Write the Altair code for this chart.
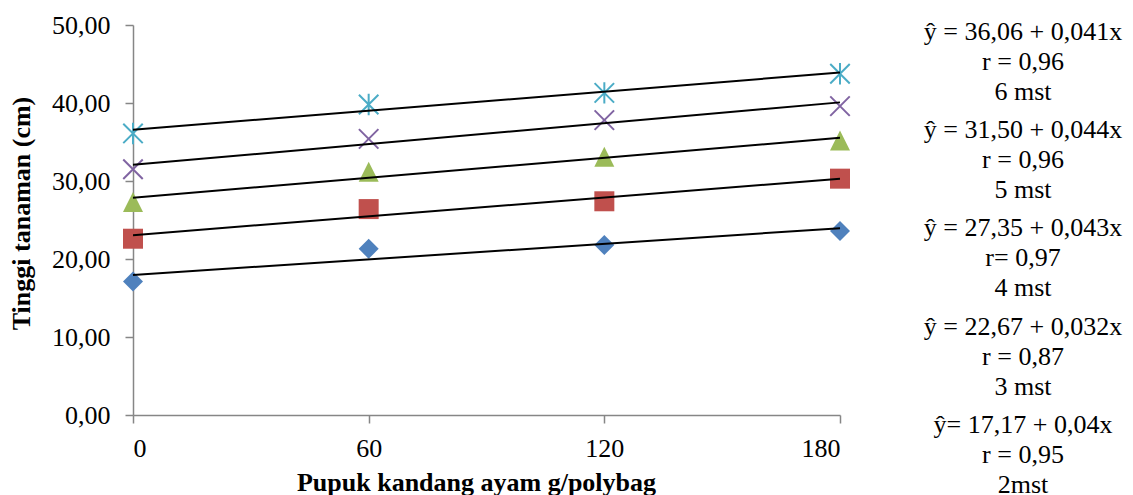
import altair as alt
import pandas as pd

# ---- data ----
doses = [0, 60, 120, 180]
series_names = ["2 mst", "3 mst", "4 mst", "5 mst", "6 mst"]
h_2mst = [17.1, 21.3, 21.8, 23.6]
h_3mst = [22.6, 26.4, 27.4, 30.3]
h_4mst = [27.3, 31.2, 33.1, 35.2]
h_5mst = [31.5, 35.4, 37.8, 39.6]
h_6mst = [36.1, 39.8, 41.3, 43.75]
y_ticks = [0, 10, 20, 30, 40, 50]

colors = ["#4F81BD", "#C0504D", "#9BBB59", "#8064A2", "#4BACC6"]
shapes = [
    "diamond",
    "square",
    "M0,-1L1,1L-1,1Z",
    "M-1,-1L1,1M-1,1L1,-1",
    "M-1,-1L1,1M-1,1L1,-1M0,-1.1L0,1.1",
]

annot_lines = [
    "ŷ = 36,06 + 0,041x", "r = 0,96", "6 mst",
    "ŷ = 31,50 + 0,044x", "r = 0,96", "5 mst",
    "ŷ = 27,35 + 0,043x", "r= 0,97", "4 mst",
    "ŷ = 22,67 + 0,032x", "r = 0,87", "3 mst",
    "ŷ= 17,17 + 0,04x", "r = 0,95", "2mst",
]

rows = []
for name, vals in zip(series_names, [h_2mst, h_3mst, h_4mst, h_5mst, h_6mst]):
    for d, v in zip(doses, vals):
        rows.append({"series": name, "dose": d, "height": v})
df = pd.DataFrame(rows)

ann = pd.DataFrame({"text": annot_lines, "idx": list(range(len(annot_lines)))})

FONT = "Liberation Serif"
AX = "#868686"

x_enc = alt.X(
    "dose:Q",
    scale=alt.Scale(domain=[0, 180], nice=False, zero=False),
    axis=alt.Axis(
        values=doses, grid=False, title="Pupuk kandang ayam g/polybag",
        domainColor=AX, tickColor=AX, domainWidth=1.5, tickWidth=1.5, tickSize=8,
        labelFont=FONT, labelFontSize=26, labelColor="black", labelPadding=12,
        titleFont=FONT, titleFontSize=26, titleFontWeight="bold", titleColor="black",
        titleBaseline="alphabetic", titleX=343, titleY=75,
    ),
)
y_enc = alt.Y(
    "height:Q",
    scale=alt.Scale(domain=[0, 50], nice=False),
    axis=alt.Axis(
        values=y_ticks, grid=False, title="Tinggi tanaman (cm)",
        labelExpr="replace(format(datum.value, '.2f'), '.', ',')",
        domainColor=AX, tickColor=AX, domainWidth=1.5, tickWidth=1.5, tickSize=8,
        labelFont=FONT, labelFontSize=26, labelColor="black", labelPadding=15,
        titleFont=FONT, titleFontSize=26, titleFontWeight="bold", titleColor="black",
        titleBaseline="alphabetic", titleX=-104, titleY=188,
    ),
)
color_enc = alt.Color("series:N", scale=alt.Scale(domain=series_names, range=colors), legend=None)
shape_enc = alt.Shape("series:N", scale=alt.Scale(domain=series_names, range=shapes), legend=None)

base = alt.Chart(df)

filled_pts = base.transform_filter(
    alt.FieldOneOfPredicate(field="series", oneOf=series_names[:3])
).mark_point(filled=True, opacity=1, size=400).encode(
    x=x_enc, y=y_enc, color=color_enc, shape=shape_enc
)
stroked_pts = base.transform_filter(
    alt.FieldOneOfPredicate(field="series", oneOf=series_names[3:])
).mark_point(filled=False, opacity=1, size=380, strokeWidth=2).encode(
    x=x_enc, y=y_enc, color=color_enc, shape=shape_enc
)
trend = base.transform_regression(
    "dose", "height", groupby=["series"]
).mark_line(color="black", strokeWidth=2).encode(
    x="dose:Q", y="height:Q", detail="series:N"
)

text = alt.Chart(ann).transform_calculate(
    py="15 + 98.2 * floor(datum.idx / 3) + 30 * (datum.idx % 3)"
).mark_text(
    font=FONT, fontSize=26, color="black", align="center", baseline="alphabetic"
).encode(
    x=alt.value(890),
    y=alt.Y("py:Q", scale=None),
    text="text:N",
)

chart = alt.layer(filled_pts, stroked_pts, trend, text).properties(
    width=707, height=390,
    autosize=alt.AutoSizeParams(type="none"),
    padding={"left": 125, "top": 17, "right": 285, "bottom": 88},
).resolve_scale(
    color="shared", shape="shared"
).configure_view(stroke=None)

chart.save("out.html", embed_options={"renderer": "svg", "actions": False})
